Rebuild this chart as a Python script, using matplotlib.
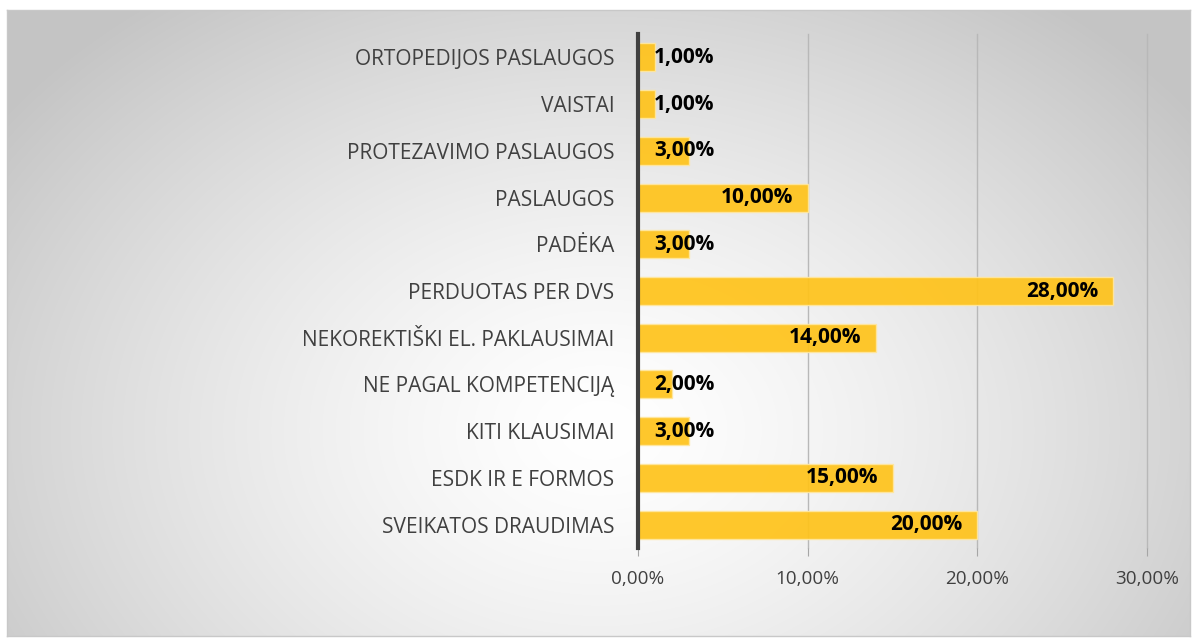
import numpy as np
import matplotlib
matplotlib.use("Agg")
import matplotlib.pyplot as plt

categories = ["SVEIKATOS DRAUDIMAS", "ESDK IR E FORMOS", "KITI KLAUSIMAI",
              "NE PAGAL KOMPETENCIJĄ", "NEKOREKTIŠKI EL. PAKLAUSIMAI",
              "PERDUOTAS PER DVS", "PADĖKA", "PASLAUGOS",
              "PROTEZAVIMO PASLAUGOS", "VAISTAI", "ORTOPEDIJOS PASLAUGOS"]
values = [20, 15, 3, 2, 14, 28, 3, 10, 3, 1, 1]
xticks = [0, 10, 20, 30]
xticklabels = ["0,00%", "10,00%", "20,00%", "30,00%"]

W, H = 1193, 639
fig = plt.figure(figsize=(W / 100, H / 100), dpi=100)
fig.patch.set_facecolor("white")

# background radial gradient inside frame
x0, y0, x1, y1 = 7, 10, 1190, 636
bg = fig.add_axes([x0 / W, 1 - y1 / H, (x1 - x0) / W, (y1 - y0) / H])
yy, xx = np.mgrid[y0:y1, x0:x1]
cx, cy = 600, 430
d = np.sqrt(((xx - cx) / 1.15) ** 2 + ((yy - cy) / 0.85) ** 2)
d = d / 640.0
d = np.clip(d, 0, 1)
g = 1.0 - (1.0 - 0.77) * d ** 1.4
img = np.dstack([g, g, g])
bg.imshow(img, aspect="auto", extent=[0, 1, 0, 1], interpolation="bilinear")
bg.set_xticks([]); bg.set_yticks([])
for s in bg.spines.values():
    s.set_color("#c8c8c8")
    s.set_linewidth(1.0)

ax = fig.add_axes([638 / W, 1 - 548 / H, (1147 - 638) / W, (548 - 34) / H])
ax.patch.set_alpha(0)

font = "Open Sans"
ypos = np.arange(len(categories))
ax.barh(ypos, values, height=0.6, color="#FFC31A", alpha=0.92,
        edgecolor="#FFE7A0", linewidth=1.0, zorder=3)

ax.set_xlim(0, 30)
ax.set_ylim(-0.5, len(categories) - 0.5)
ax.set_xticks(xticks)
ax.set_xticklabels(xticklabels, fontsize=13.6, color="#404040", family=font)
ax.set_yticks(ypos)
ax.set_yticklabels(categories, fontsize=15, color="#404040", family=font)
ax.tick_params(axis="y", length=0, pad=17)
ax.tick_params(axis="x", length=6, color="#a6a6a6", pad=10, direction="out")
for t in xticks[1:]:
    ax.axvline(t, color="#b8b8b8", linewidth=1.0, zorder=0, clip_on=False)
for side in ["top", "right", "bottom"]:
    ax.spines[side].set_visible(False)
ax.spines["left"].set_color("#404040")
ax.spines["left"].set_linewidth(3)
ax.spines["left"].set_zorder(5)

for y, v in zip(ypos, values):
    lab = f"{v:.2f}".replace(".", ",") + "%"
    if v <= 3:
        ax.text(0.95, y, lab, ha="left", va="center", fontsize=15,
                fontweight="bold", color="black", family=font, zorder=6)
    else:
        ax.text(v - 0.85, y, lab, ha="right", va="center", fontsize=15,
                fontweight="bold", color="black", family=font, zorder=6)

fig.savefig("out.png", dpi=100)
